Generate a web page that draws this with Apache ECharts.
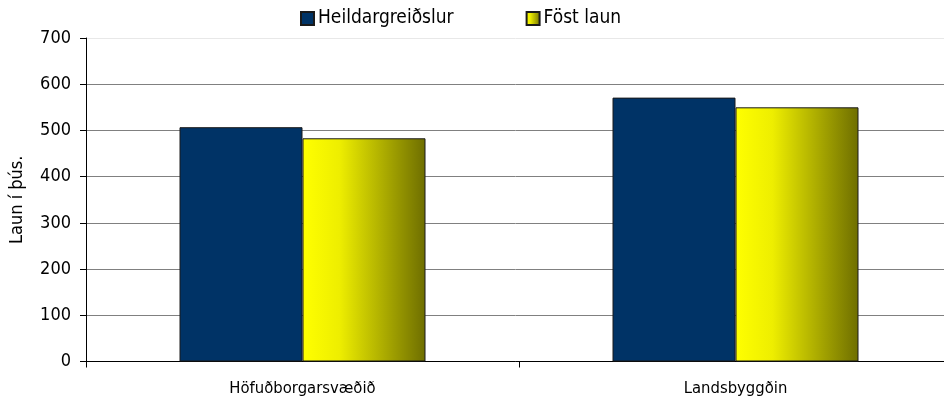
<!DOCTYPE html>
<html>
<head>
<meta charset="utf-8">
<script src="https://cdn.jsdelivr.net/npm/echarts@6/dist/echarts.min.js"></script>
<style>
  html, body { margin: 0; padding: 0; background: #fff; }
  #main { width: 944px; height: 403px; }
</style>
</head>
<body>
<div id="main"></div>
<script>
  var categories = ["Höfuðborgarsvæðið", "Landsbyggðin"];
  var heildar = [507, 571];
  var fost = [483, 550];
  var yTicks = [0, 700, 100];

  var chart = echarts.init(document.getElementById("main"));
  var font = "'DejaVu Sans Condensed', 'DejaVu Sans', Verdana, sans-serif";

  var yellowGrad = new echarts.graphic.LinearGradient(0, 0, 1, 0, [
    { offset: 0, color: "#ffff00" },
    { offset: 0.3, color: "#eeee00" },
    { offset: 1, color: "#6e6e00" }
  ]);

  var option = {
    backgroundColor: "#fff",
    animation: false,
    textStyle: { fontFamily: font },
    legend: {
      top: 1,
      left: 262,
      padding: [8, 38, 10, 38],
      backgroundColor: "#fff",
      icon: "rect",
      itemWidth: 13,
      itemHeight: 13,
      itemGap: 72,
      textStyle: { fontFamily: font, fontSize: 19, color: "#000", padding: [0, 0, 0, -1] },
      data: ["Heildargreiðslur", "Föst laun"]
    },
    // original is cropped on the right, so the plot runs past the edge
    grid: { left: 86, top: 38, width: 866, height: 323.5, outerBoundsMode: "none", containLabel: false },
    xAxis: {
      type: "category",
      data: categories,
      axisLine: { lineStyle: { color: "#000", width: 1 } },
      axisTick: { show: true, length: 6, lineStyle: { color: "#000" } },
      axisLabel: { color: "#000", fontSize: 16.5, margin: 19, fontFamily: font }
    },
    yAxis: {
      type: "value",
      min: yTicks[0],
      max: yTicks[1],
      interval: yTicks[2],
      name: "Laun í þús.",
      nameLocation: "middle",
      nameGap: 60,
      nameTextStyle: { color: "#000", fontSize: 18, fontFamily: font },
      axisLine: { show: true, lineStyle: { color: "#000" } },
      axisTick: { show: true, length: 6, lineStyle: { color: "#000" } },
      axisLabel: { color: "#000", fontSize: 18, margin: 15, fontFamily: font },
      splitLine: {
        lineStyle: {
          color: ["#808080", "#808080", "#808080", "#808080", "#808080", "#808080", "#808080", "#e8e8e8"],
          width: 1
        }
      }
    },
    series: [
      {
        name: "Heildargreiðslur",
        type: "bar",
        data: heildar,
        barGap: "0%",
        barWidth: 123,
        itemStyle: { color: "#003366", borderColor: "#1a1a1a", borderWidth: 1 }
      },
      {
        name: "Föst laun",
        type: "bar",
        data: fost,
        barWidth: 123,
        itemStyle: { color: yellowGrad, borderColor: "#1a1a1a", borderWidth: 1 }
      }
    ]
  };

  chart.setOption(option);
</script>
</body>
</html>
